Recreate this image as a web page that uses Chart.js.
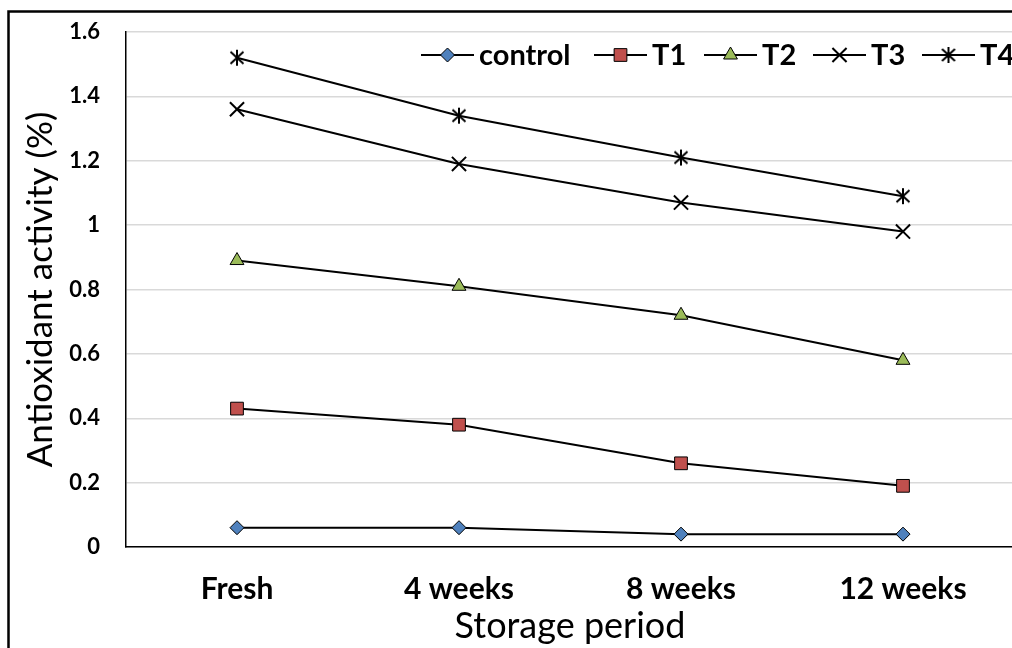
<!DOCTYPE html>
<html><head><meta charset="utf-8">
<script src="https://cdn.jsdelivr.net/npm/chart.js@4"></script>
<style>
html,body{margin:0;padding:0;overflow:hidden;background:#fff;width:1012px;height:648px}
#wrap{position:absolute;left:0;top:0;width:1014px;height:648px}
</style></head>
<body><div id="wrap"><canvas id="c" width="1014" height="648"></canvas></div>
<script>
const categories = ['Fresh', '4 weeks', '8 weeks', '12 weeks'];
const seriesNames = ['control', 'T1', 'T2', 'T3', 'T4'];
const control = [0.06, 0.06, 0.04, 0.04];
const t1 = [0.43, 0.38, 0.26, 0.19];
const t2 = [0.89, 0.81, 0.72, 0.58];
const t3 = [1.36, 1.19, 1.07, 0.98];
const t4 = [1.52, 1.34, 1.21, 1.09];
const yMin = 0, yMax = 1.6, yStep = 0.2;

function asteriskCanvas() {
  const c = document.createElement('canvas');
  c.width = 18; c.height = 18;
  const g = c.getContext('2d');
  g.strokeStyle = '#000'; g.lineWidth = 2;
  g.beginPath();
  g.moveTo(2.5, 3); g.lineTo(15.5, 15);
  g.moveTo(15.5, 3); g.lineTo(2.5, 15);
  g.moveTo(9, 1); g.lineTo(9, 17);
  g.stroke();
  return c;
}
const star6 = asteriskCanvas();

const styles = [
  {pointStyle: 'rectRot', radius: 7, bg: '#4f81bd'},
  {pointStyle: 'rect', radius: 9, bg: '#c0504d'},
  {pointStyle: 'triangle', radius: 8, bg: '#9bbb59'},
  {pointStyle: 'crossRot', radius: 10, bg: '#000'},
  {pointStyle: star6, radius: 9, bg: '#000'}
];
const values = [control, t1, t2, t3, t4];
const legendStarts = [421, 594, 704, 813, 922];

const datasets = values.map((v, i) => ({
  label: seriesNames[i],
  data: v,
  borderColor: '#000',
  borderWidth: 2,
  pointStyle: styles[i].pointStyle,
  pointRadius: styles[i].radius,
  pointBackgroundColor: styles[i].bg,
  pointBorderColor: '#000',
  pointBorderWidth: (i >= 3) ? 2 : 1,
  tension: 0,
  fill: false
}));

const FONT = 'Lato';

const framePlugin = {
  id: 'frame',
  beforeDraw(chart) {
    const ctx = chart.ctx;
    ctx.save(); ctx.fillStyle = '#fff'; ctx.fillRect(0, 0, chart.width, chart.height); ctx.restore();
  },
  afterDraw(chart) {
    const ctx = chart.ctx;
    ctx.save();
    ctx.strokeStyle = '#000'; ctx.lineWidth = 2.5;
    ctx.strokeRect(8.5, 11.5, 2000, 2000);
    const y = 55;
    ctx.font = 'bold 29px ' + FONT;
    ctx.textBaseline = 'middle';
    ctx.textAlign = 'left';
    chart.data.datasets.forEach((ds, i) => {
      const x = legendStarts[i];
      ctx.strokeStyle = '#000'; ctx.lineWidth = 2;
      ctx.beginPath(); ctx.moveTo(x, y); ctx.lineTo(x + 53, y); ctx.stroke();
      const mx = x + 26.5;
      ctx.fillStyle = ds.pointBackgroundColor;
      ctx.strokeStyle = '#000';
      ctx.lineWidth = ds.pointBorderWidth;
      if (ds.pointStyle instanceof HTMLCanvasElement) {
        ctx.drawImage(ds.pointStyle, mx - ds.pointStyle.width / 2, y - ds.pointStyle.height / 2);
      } else if (Chart.helpers && Chart.helpers.drawPoint) {
        Chart.helpers.drawPoint(ctx, {pointStyle: ds.pointStyle, radius: ds.pointRadius, rotation: 0, borderWidth: ds.pointBorderWidth}, mx, y);
      }
      ctx.fillStyle = '#000';
      ctx.fillText(ds.label, x + 58, y + 1);
    });
    ctx.restore();
  }
};

new Chart(document.getElementById('c'), {
  type: 'line',
  data: {labels: categories, datasets},
  plugins: [framePlugin],
  options: {
    responsive: false,
    animation: false,
    devicePixelRatio: 1,
    layout: {autoPadding: false, padding: {top: 32, left: 0, right: 0, bottom: 0}},
    plugins: {legend: {display: false}, tooltip: {enabled: false}},
    scales: {
      x: {
        offset: true,
        grid: {display: false, drawTicks: false},
        border: {display: true, color: '#000', width: 1.5},
        ticks: {font: {family: FONT, weight: 'bold', size: 30}, color: '#000', padding: 24, maxRotation: 0},
        title: {display: true, text: 'Storage period', font: {family: FONT, size: 36}, color: '#000', padding: {top: 0, bottom: 0}},
        afterFit(s) { s.height = 101; s.paddingLeft = 0; s.paddingRight = 0; }
      },
      y: {
        min: yMin, max: yMax,
        ticks: {stepSize: yStep, font: {family: FONT, weight: 'bold', size: 22}, color: '#000', padding: 26,
          callback: v => String(+(+v).toFixed(1))},
        grid: {color: '#d9d9d9', lineWidth: 1.5, drawTicks: false},
        border: {color: '#000', width: 1.5},
        title: {display: true, text: 'Antioxidant activity (%)', font: {family: FONT, size: 35}, color: '#000', padding: {top: 20, bottom: 0}},
        afterFit(s) { s.width = 126; s.paddingTop = 0; s.paddingBottom = 0; }
      }
    }
  }
});
</script>
</body></html>
